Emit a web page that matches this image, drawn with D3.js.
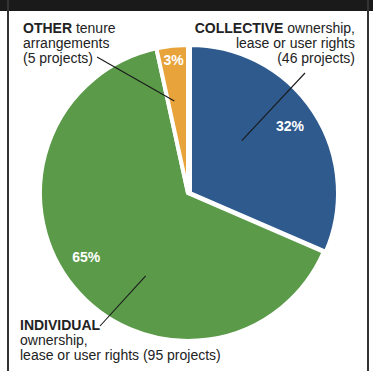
<!DOCTYPE html>
<html>
<head>
<meta charset="utf-8">
<script src="https://cdn.jsdelivr.net/npm/d3@7"></script>
<style>
body { margin: 0; background: #fff; }
text { font-family: "Liberation Sans Narrow", "Arial Narrow", "Liberation Sans", sans-serif; }
</style>
</head>
<body>
<div id="output"></div>
<script>
var w = 373;
var h = 371;
var categories = ['COLLECTIVE', 'INDIVIDUAL', 'OTHER'];
var projects = [46, 95, 5];
var percents = ['32%', '65%', '3%'];
var colors = ['#2e5a8e', '#5b9a49', '#e8a43b'];

var cx = 188, cy = 193, r = 148;

var svg = d3.select('#output').append('svg')
	.attr('width', w)
	.attr('height', h);

// frame
svg.append('rect').attr('x', 0).attr('y', 0).attr('width', w).attr('height', 11).attr('fill', '#1a1a1a');
svg.append('line').attr('x1', 8).attr('x2', 8).attr('y1', 0).attr('y2', h).attr('stroke', '#333').attr('stroke-width', 2);
svg.append('line').attr('x1', 368).attr('x2', 368).attr('y1', 0).attr('y2', h).attr('stroke', '#333').attr('stroke-width', 2);

var pie = d3.pie().sort(null).value(function (d) { return d; });
var arcs = pie(projects);
var arc = d3.arc().innerRadius(0).outerRadius(r);

var g = svg.append('g').attr('transform', 'translate(' + cx + ',' + cy + ')');

g.selectAll('path')
	.data(arcs)
	.enter()
	.append('path')
	.attr('d', arc)
	.attr('transform', function (d, i) { return i === 0 ? 'translate(2,0)' : null; })
	.attr('fill', function (d, i) { return colors[i]; })
	.attr('stroke', '#fff')
	.attr('stroke-width', 4)
	.attr('stroke-linejoin', 'miter');

// percentage labels
var labelR = [122, 120, 134];
var labelShift = [0, 0.13, 0];
g.selectAll('text.pct')
	.data(arcs)
	.enter()
	.append('text')
	.attr('class', 'pct')
	.text(function (d, i) { return percents[i]; })
	.attr('transform', function (d, i) {
		var p = d3.pointRadial((d.startAngle + d.endAngle) / 2 + labelShift[i], labelR[i]);
		return 'translate(' + p[0] + ',' + (p[1] + 5) + ')';
	})
	.attr('text-anchor', 'middle')
	.attr('font-size', 14)
	.attr('font-weight', 'bold')
	.attr('fill', '#fff');

// leader lines: inner end on slice, outer end at label
var leadR = [75, 93, 93];
var leadShift = [-0.19, -0.41, -0.04];
var leadOut = [[305, 73], [100, 326], [97, 57]];
function leadIn(d, i) {
	return d3.pointRadial((d.startAngle + d.endAngle) / 2 + leadShift[i], leadR[i]);
}
g.selectAll('line.lead')
	.data(arcs)
	.enter()
	.append('line')
	.attr('class', 'lead')
	.attr('x1', function (d, i) { return leadIn(d, i)[0]; })
	.attr('y1', function (d, i) { return leadIn(d, i)[1]; })
	.attr('x2', function (d, i) { return leadOut[i][0] - cx; })
	.attr('y2', function (d, i) { return leadOut[i][1] - cy; })
	.attr('stroke', '#1a1a1a')
	.attr('stroke-width', 1.1);

function label(x, y, anchor, lines) {
	var t = svg.append('text')
		.attr('x', x).attr('y', y)
		.attr('text-anchor', anchor)
		.attr('font-size', 14)
		.attr('fill', '#222');
	lines.forEach(function (ln, k) {
		var ts = t.append('tspan').attr('x', x).attr('dy', k === 0 ? 0 : 15);
		if (ln.bold) ts.append('tspan').attr('font-weight', 'bold').text(ln.bold);
		ts.append('tspan').text(ln.rest);
	});
}

label(23, 33, 'start', [
	{ bold: categories[2], rest: ' tenure' },
	{ rest: 'arrangements' },
	{ rest: '(' + projects[2] + ' projects)' }
]);
label(355, 33, 'end', [
	{ bold: categories[0], rest: ' ownership,' },
	{ rest: 'lease or user rights' },
	{ rest: '(' + projects[0] + ' projects)' }
]);
label(20, 330, 'start', [
	{ bold: categories[1], rest: '' },
	{ rest: 'ownership,' },
	{ rest: 'lease or user rights (' + projects[1] + ' projects)' }
]);
</script>
</body>
</html>
